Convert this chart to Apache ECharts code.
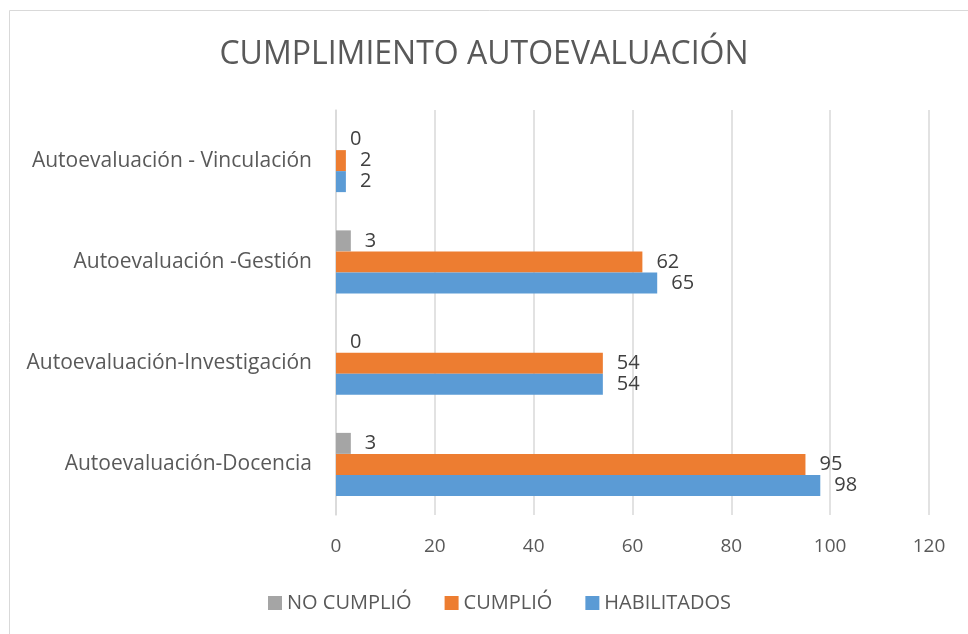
<!DOCTYPE html>
<html>
<head>
<meta charset="utf-8">
<title>Cumplimiento autoevaluación</title>
<style>
  html, body { margin: 0; padding: 0; background: #fff; }
  #chart { width: 968px; height: 634px; }
</style>
</head>
<body>
<div id="chart"></div>
<script src="https://cdn.jsdelivr.net/npm/echarts@6/dist/echarts.min.js"></script>
<script>
// datos
var categorias = ['Autoevaluación-Docencia', 'Autoevaluación-Investigación', 'Autoevaluación -Gestión', 'Autoevaluación - Vinculación'];
var habilitados = [98, 54, 65, 2];
var cumplio = [95, 54, 62, 2];
var noCumplio = [3, 0, 3, 0];
var ticksX = [0, 20, 40, 60, 80, 100, 120];

var fuente = 'Open Sans';
var myChart = echarts.init(document.getElementById('chart'));

function serie(nombre, datos, color) {
	return {
		name: nombre,
		type: 'bar',
		data: datos,
		barWidth: 21,
		barGap: '0%',
		itemStyle: { color: color },
		label: {
			show: true,
			position: 'right',
			distance: 14,
			color: '#404040',
			fontFamily: fuente,
			fontSize: 20
		}
	};
}

var option = {
	animation: false,
	textStyle: { fontFamily: fuente },
	graphic: [{
		type: 'rect',
		shape: { x: 9.5, y: 10.5, width: 1000, height: 700 },
		style: { fill: 'none', stroke: '#D9D9D9', lineWidth: 1 },
		silent: true
	}],
	title: {
		text: 'CUMPLIMIENTO AUTOEVALUACIÓN',
		left: 'center',
		top: 34,
		textStyle: { color: '#595959', fontFamily: fuente, fontSize: 32, fontWeight: 'normal' }
	},
	legend: {
		data: ['NO CUMPLIÓ', 'CUMPLIÓ', 'HABILITADOS'],
		left: 263,
		top: 588,
		icon: 'rect',
		itemWidth: 14,
		itemHeight: 14,
		itemGap: 33,
		textStyle: { color: '#595959', fontFamily: fuente, fontSize: 20 }
	},
	grid: { left: 336, right: 39, top: 110, bottom: 119 },
	xAxis: {
		type: 'value',
		min: ticksX[0],
		max: ticksX[ticksX.length - 1],
		interval: 20,
		axisLine: { show: false },
		axisTick: { show: false },
		splitLine: { lineStyle: { color: '#D9D9D9', width: 1.5 } },
		axisLabel: { color: '#595959', fontFamily: fuente, fontSize: 19, margin: 22 }
	},
	yAxis: {
		type: 'category',
		data: categorias,
		axisLine: { show: true, lineStyle: { color: '#D9D9D9', width: 1.5 } },
		axisTick: { show: false },
		axisLabel: { color: '#595959', fontFamily: fuente, fontSize: 21, margin: 24 }
	},
	series: [
		serie('NO CUMPLIÓ', noCumplio, '#A5A5A5'),
		serie('CUMPLIÓ', cumplio, '#ED7D31'),
		serie('HABILITADOS', habilitados, '#5B9BD5')
	]
};

myChart.setOption(option);
</script>
</body>
</html>
